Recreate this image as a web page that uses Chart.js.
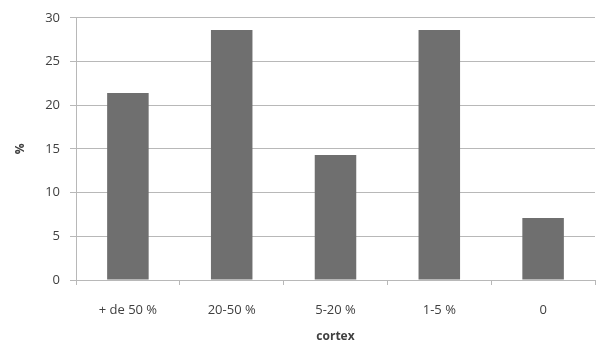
<!DOCTYPE html>
<html>
<head>
<meta charset="utf-8">
<script src="https://cdn.jsdelivr.net/npm/chart.js@4"></script>
<style>
    html, body { margin: 0; padding: 0; background: #fff; }
    #wrap { width: 596px; height: 353px; }
</style>
</head>
<body>
<div id="wrap"><canvas id="chartCortex"></canvas></div>
<script>
const categorias = ["+ de 50 %", "20-50 %", "5-20 %", "1-5 %", "0"];
const porcentajes = [21.4, 28.6, 14.3, 28.6, 7.1];
const tituloX = "cortex";
const tituloY = "%";

const colorTexto = "#404040";
const colorGrid = "#b8b8b8";
const fuente = "'Open Sans', 'DejaVu Sans', sans-serif";

const chartCortex = new Chart(document.getElementById("chartCortex"), {
    type: "bar",
    data: {
        labels: categorias,
        datasets: [{
            data: porcentajes,
            backgroundColor: "#6f6f6f",
            borderWidth: 0,
            categoryPercentage: 1,
            barPercentage: 0.4
        }]
    },
    options: {
        responsive: true,
        maintainAspectRatio: false,
        animation: false,
        layout: { padding: { top: 15, right: 1, left: 0, bottom: 0 } },
        plugins: {
            legend: { display: false },
            tooltip: { enabled: false }
        },
        scales: {
            x: {
                grid: {
                    offset: true,
                    drawOnChartArea: false,
                    drawTicks: true,
                    tickLength: 5,
                    color: colorGrid
                },
                border: { color: colorGrid, width: 1 },
                ticks: {
                    color: colorTexto,
                    font: { family: fuente, size: 13 },
                    padding: 17,
                    maxRotation: 0
                },
                title: {
                    display: true,
                    text: tituloX,
                    color: colorTexto,
                    font: { family: fuente, size: 12, weight: "bold" },
                    padding: { top: 0, bottom: 9 }
                },
                afterFit: s => { s.height = 73; }
            },
            y: {
                min: 0,
                max: 30,
                grid: {
                    color: colorGrid,
                    drawTicks: true,
                    tickLength: 6
                },
                border: { color: colorGrid, width: 1 },
                ticks: {
                    stepSize: 5,
                    color: colorTexto,
                    font: { family: fuente, size: 13 },
                    padding: 10
                },
                title: {
                    display: true,
                    text: tituloY,
                    color: colorTexto,
                    font: { family: fuente, size: 12, weight: "bold" },
                    padding: { top: 13, bottom: 0 }
                },
                afterFit: s => { s.width = 76; }
            }
        }
    }
});
</script>
</body>
</html>
